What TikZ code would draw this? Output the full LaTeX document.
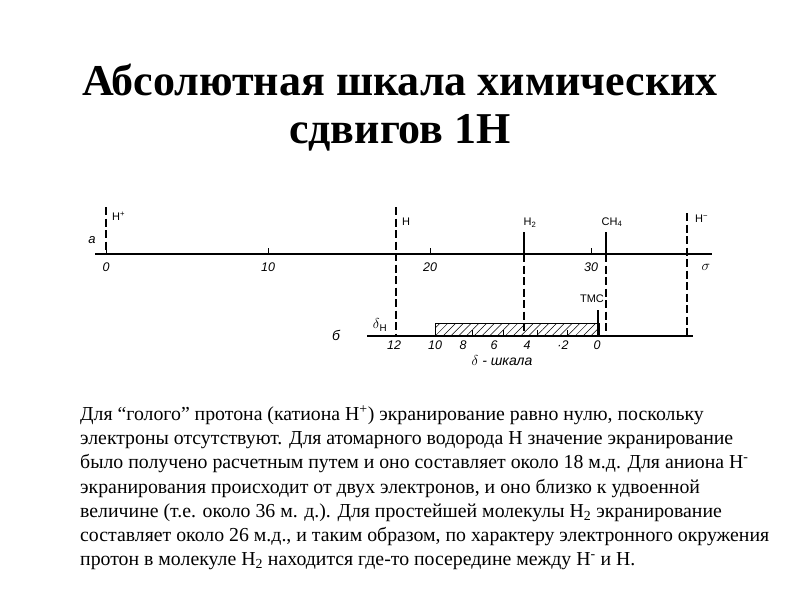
\documentclass[tikz,border=0pt]{standalone}
\usepackage{fontspec}
\setmainfont{Liberation Serif}
\newfontfamily\diagfont{Liberation Sans}
\usetikzlibrary{patterns.meta,positioning}
\tikzset{shiftline/.style={line width=2.6pt, dash pattern=on 8pt off 3.5pt},
  topline/.style={line width=2.6pt},
  axisline/.style={line width=1.1pt},
  numlbl/.style={font=\diagfont\itshape\fontsize{12.5}{12.5}\selectfont, inner sep=0pt},
  peaklbl/.style={font=\diagfont\fontsize{11}{11}\selectfont, inner sep=1pt}}

\begin{document}
\begin{tikzpicture}[x=1pt, y=-1pt]
\useasboundingbox (0,0) rectangle (800,600);
\node[font=\bfseries\fontsize{44}{48}\selectfont, align=center] (title) at (400,108) {Абсолютная шкала химических\\сдвигов 1Н};
% sigma scale
\coordinate (sigL) at (95,254);
\coordinate (sigR) at (712,254);
\draw[axisline] (sigL) -- (sigR);
\foreach \x/\v in {106/0, 268/10, 430/20, 591/30} {
  \draw[line width=0.8pt] (\x,248) -- (\x,254);
  \node[numlbl] (s\v) at (\x,267) {\v};
}
\node[numlbl, font=\diagfont\itshape\fontsize{13}{13}\selectfont] (lbla) at (92,240) {а};
\node[numlbl, font=\diagfont\itshape\fontsize{15}{15}\selectfont] (lblsig) at (706,267) {$\sigma$};
% delta scale
\coordinate (delL) at (367,336);
\coordinate (delR) at (693,336);
\draw[axisline] (delL) -- (delR);
\draw[line width=0.9pt, pattern={Lines[angle=45, distance=5.5pt, line width=0.5pt]}] (435,323) rectangle (599,336);
\foreach \x in {472,503,537,567} \draw[line width=0.6pt] (\x,330) -- (\x,336);
\foreach \x/\v in {394/12, 435/10, 463/8, 494/6, 527/4, 563/{\textperiodcentered 2}, 597/0} {
  \node[numlbl] at (\x,345) {\v};
}
\node[numlbl, font=\diagfont\itshape\fontsize{14}{14}\selectfont] (lblb) at (336,335) {б};
\node[numlbl, font=\diagfont\itshape\fontsize{14}{14}\selectfont] (dH) at (380,325) {$\delta$\textsubscript{\upshape Н}};
\node[numlbl, font=\diagfont\itshape\fontsize{14}{14}\selectfont] (dscale) at (502,361) {$\delta$ - шкала};
% lines
\draw[shiftline] (106,207) -- (106,254);
\node[peaklbl, anchor=west] (hplus) at (111,216) {Н\textsuperscript{+}};
\draw[shiftline] (396,207) -- (396,336);
\node[peaklbl, anchor=west] (hatom) at (401,222) {Н};
\draw[topline] (524,232) -- (524,254);
\draw[shiftline] (524,254) -- (524,336);
\node[peaklbl] (htwo) at (530,223) {Н\textsubscript{2}};
\draw[topline] (606,232) -- (606,254);
\draw[shiftline] (606,254) -- (606,336);
\node[peaklbl] (ch4) at (612,222) {СН\textsubscript{4}};
\draw[shiftline] (687,213) -- (687,336);
\node[peaklbl, anchor=west] (hminus) at (694,219) {Н\textsuperscript{\textminus}};
\draw[line width=1.8pt] (598,310) -- (598,336);
\node[peaklbl] (tms) at (592,299) {ТМС};
% paragraph
\node[anchor=north west, inner sep=0pt, align=left, font=\fontsize{19.8}{24.2}\selectfont] (para) at (80,405) {Для “голого” протона (катиона H\textsuperscript{+}) экранирование равно нулю, поскольку\\
электроны отсутствуют. Для атомарного водорода H значение экранирование\\
было получено расчетным путем и оно составляет около 18 м.д. Для аниона H\textsuperscript{-}\\
экранирования происходит от двух электронов, и оно близко к удвоенной\\
величине (т.е. около 36 м. д.). Для простейшей молекулы H\textsubscript{2} экранирование\\
составляет около 26 м.д., и таким образом, по характеру электронного окружения\\
протон в молекуле H\textsubscript{2} находится где-то посередине между H\textsuperscript{-} и H.};
\end{tikzpicture}
\end{document}
